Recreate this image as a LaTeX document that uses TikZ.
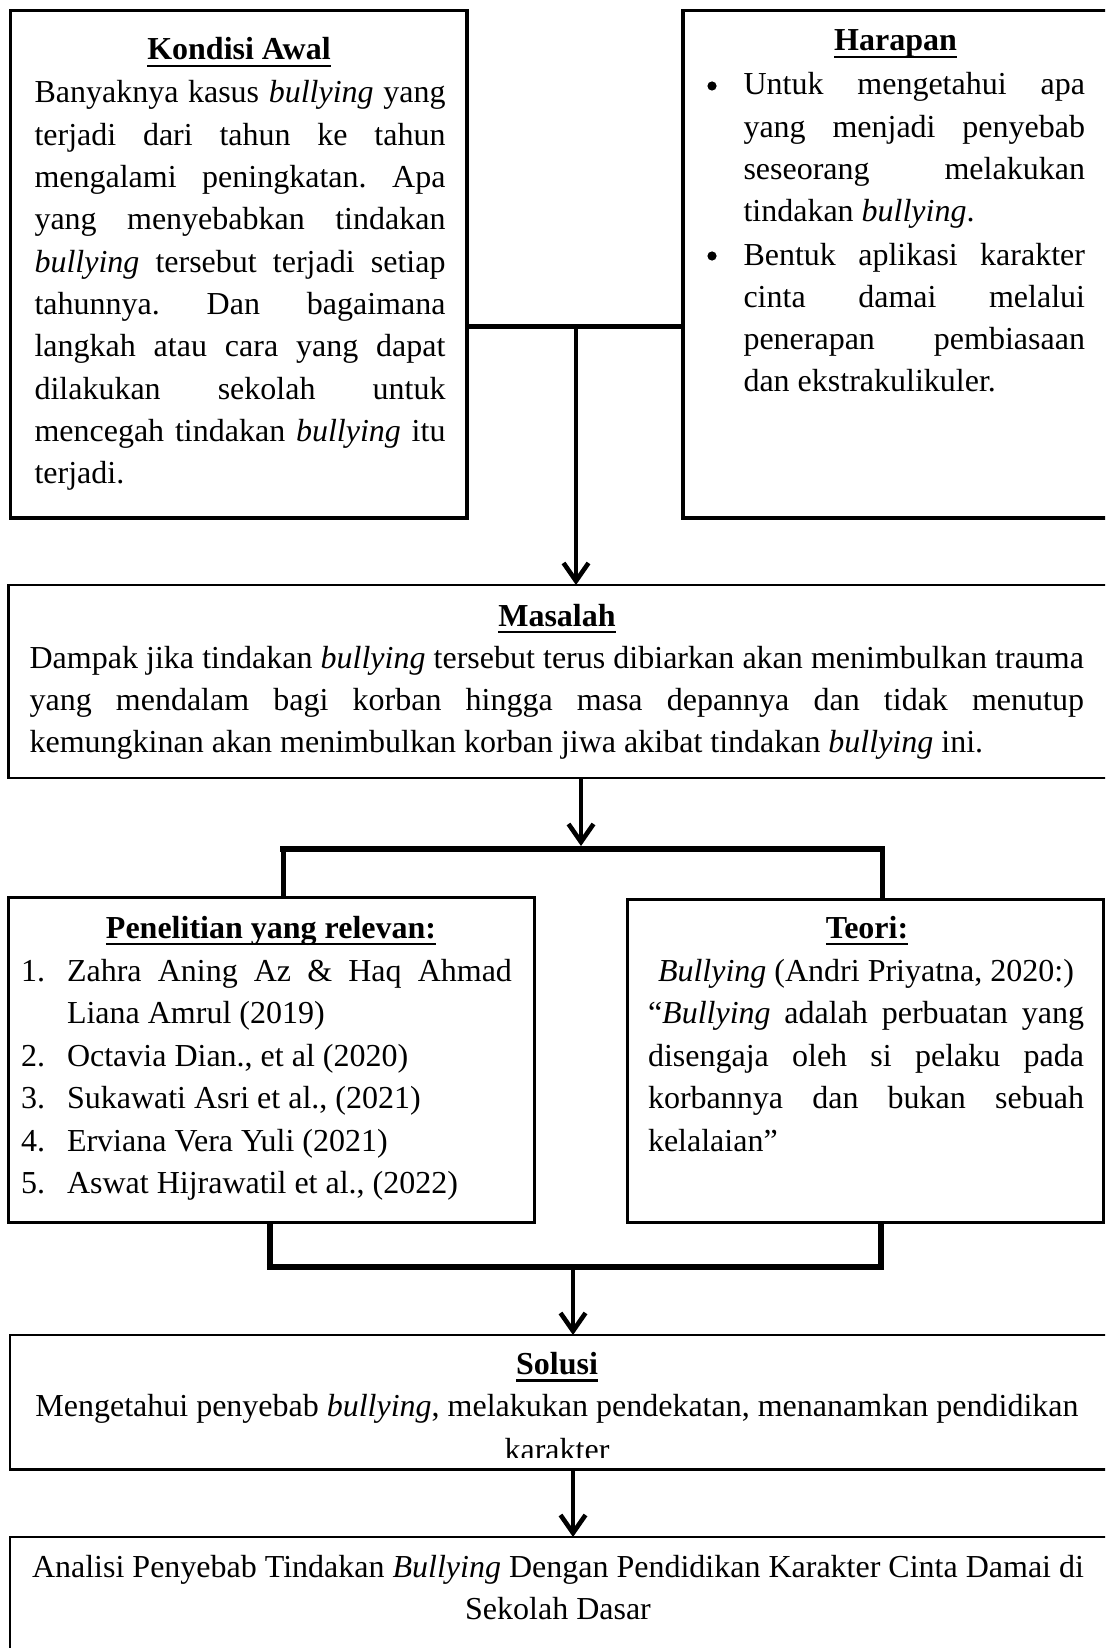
\documentclass[tikz,border=0pt]{standalone}
\usepackage{fontspec}
\setmainfont{Liberation Serif}
\usetikzlibrary{arrows.meta}
\frenchspacing
\newsavebox\ulbox
\newcommand\ULtitle[1]{\sbox\ulbox{\bfseries #1}\rlap{\rule[-3.6pt]{\wd\ulbox}{1.3pt}}\usebox\ulbox}
\newcommand\JLine[2]{\makebox[#1][s]{#2}}
\begin{document}
\begin{tikzpicture}[x=0.5pt,y=-0.5pt,
  txt/.style={inner sep=0pt, outer sep=0pt, font=\fontsize{16pt}{21pt}\selectfont},
  tl/.style={txt, anchor=base west},
  tc/.style={txt, anchor=base},
  bulletdot/.style={circle, fill=black, inner sep=0pt, minimum size=4.6pt},
  boxbase/.style={draw, anchor=north west, inner sep=0pt, outer sep=0pt},
  boxthick/.style={boxbase, line width=1.7pt},
  boxmid/.style={boxbase, line width=1.5pt},
  boxthin/.style={boxbase, line width=1.1pt},
  arr/.style={line width=2pt, -{Straight Barb[length=9pt,width=12.5pt,line width=2.3pt]}},
]
\useasboundingbox (0,0) rectangle (1105,1648);
\clip (0,0) rectangle (1105,1648);

% ---------- boxes ----------
\node[boxthick, minimum width=228.25pt, minimum height=253.75pt] (kondisi) at (10.5,10.5) {};
\node[boxthick, minimum width=216pt, minimum height=253.75pt] (harapan) at (683,10.5) {};
\node[boxthin, minimum width=553.25pt, minimum height=96.5pt] (masalah) at (8.5,585) {};
\node[boxmid, minimum width=262.75pt, minimum height=162.5pt] (pen) at (8.5,897) {};
\node[boxmid, minimum width=238.25pt, minimum height=161.5pt] (teori) at (627,899) {};
\node[boxthin, minimum width=552.5pt, minimum height=67.25pt] (solusi) at (10,1335) {};
\node[boxthin, minimum width=552.5pt, minimum height=61.5pt] (final) at (10,1537) {};

% ---------- Kondisi Awal ----------
\node[tc] (kt) at (239,60) {\ULtitle{Kondisi Awal}};
\node[tl] (k1) at (34.5,103) {\JLine{205.5pt}{Banyaknya kasus \textit{bullying} yang}};
\node[tl] (k2) at (34.5,145.3) {\JLine{205.5pt}{terjadi dari tahun ke tahun}};
\node[tl] (k3) at (34.5,187.6) {\JLine{205.5pt}{mengalami peningkatan. Apa}};
\node[tl] (k4) at (34.5,229.9) {\JLine{205.5pt}{yang menyebabkan tindakan}};
\node[tl] (k5) at (34.5,272.2) {\JLine{205.5pt}{\textit{bullying} tersebut terjadi setiap}};
\node[tl] (k6) at (34.5,314.5) {\JLine{205.5pt}{tahunnya. Dan bagaimana}};
\node[tl] (k7) at (34.5,356.8) {\JLine{205.5pt}{langkah atau cara yang dapat}};
\node[tl] (k8) at (34.5,399.1) {\JLine{205.5pt}{dilakukan sekolah untuk}};
\node[tl] (k9) at (34.5,441.4) {\JLine{205.5pt}{mencegah tindakan \textit{bullying} itu}};
\node[tl] (k10) at (34.5,483.7) {terjadi.};

% ---------- Harapan ----------
\node[tc] (ht) at (895.5,51) {\ULtitle{Harapan}};
\node[bulletdot] (hb1) at (712,86) {};
\node[tl] (h1) at (743.5,95) {\JLine{170.75pt}{Untuk mengetahui apa}};
\node[tl] (h2) at (743.5,137.2) {\JLine{170.75pt}{yang menjadi penyebab}};
\node[tl] (h3) at (743.5,179.4) {\JLine{170.75pt}{seseorang melakukan}};
\node[tl] (h4) at (743.5,221.6) {tindakan \textit{bullying}.};
\node[bulletdot] (hb2) at (712,256) {};
\node[tl] (h5) at (743.5,265) {\JLine{170.75pt}{Bentuk aplikasi karakter}};
\node[tl] (h6) at (743.5,307.2) {\JLine{170.75pt}{cinta damai melalui}};
\node[tl] (h7) at (743.5,349.4) {\JLine{170.75pt}{penerapan pembiasaan}};
\node[tl] (h8) at (743.5,391.6) {dan ekstrakulikuler.};

% ---------- Masalah ----------
\node[tc] (mt) at (557,626) {\ULtitle{Masalah}};
\node[tl] (m1) at (29.6,668) {\JLine{527.2pt}{Dampak jika tindakan \textit{bullying} tersebut terus dibiarkan akan menimbulkan trauma}};
\node[tl] (m2) at (29.6,710) {\JLine{527.2pt}{yang mendalam bagi korban hingga masa depannya dan tidak menutup}};
\node[tl] (m3) at (29.6,752) {kemungkinan akan menimbulkan korban jiwa akibat tindakan \textit{bullying} ini.};

% ---------- Penelitian ----------
\node[tc] (pt) at (271,938) {\ULtitle{Penelitian yang relevan:}};
\node[tl] (pn1) at (21,981) {1.};
\node[tl] (p1) at (67,981) {\JLine{222.5pt}{Zahra Aning Az \& Haq Ahmad}};
\node[tl] (p1b) at (67,1023.5) {Liana Amrul (2019)};
\node[tl] (pn2) at (21,1066) {2.};
\node[tl] (p2) at (67,1066) {Octavia Dian., et al (2020)};
\node[tl] (pn3) at (21,1108.5) {3.};
\node[tl] (p3) at (67,1108.5) {Sukawati Asri et al., (2021)};
\node[tl] (pn4) at (21,1151) {4.};
\node[tl] (p4) at (67,1151) {Erviana Vera Yuli (2021)};
\node[tl] (pn5) at (21,1193.5) {5.};
\node[tl] (p5) at (67,1193.5) {Aswat Hijrawatil et al., (2022)};

% ---------- Teori ----------
\node[tc] (tt) at (867,938) {\ULtitle{Teori:}};
\node[tc] (t1) at (866,981) {\textit{Bullying} (Andri Priyatna, 2020:)};
\node[tl] (t2) at (648,1023.5) {\JLine{218pt}{“\textit{Bullying} adalah perbuatan yang}};
\node[tl] (t3) at (648,1066) {\JLine{218pt}{disengaja oleh si pelaku pada}};
\node[tl] (t4) at (648,1108.5) {\JLine{218pt}{korbannya dan bukan sebuah}};
\node[tl] (t5) at (648,1151) {kelalaian”};

% ---------- Solusi ----------
\node[tc] (st) at (557,1374.5) {\ULtitle{Solusi}};
\node[tc] (s1) at (557,1416.7) {Mengetahui penyebab \textit{bullying}, melakukan pendekatan, menanamkan pendidikan};
\begin{scope}
\clip (0,1300) rectangle (1105,1457);
\node[tc] (s2) at (557,1460) {karakter};
\end{scope}

% ---------- Final ----------
\node[tc] (f1) at (558,1577) {Analisi Penyebab Tindakan \textit{Bullying} Dengan Pendidikan Karakter Cinta Damai di};
\node[tc] (f2) at (558,1619) {Sekolah Dasar};

% ---------- connectors ----------
\coordinate (j1) at (576,326);
\draw[line width=2.5pt] (kondisi.east |- j1) -- (harapan.west |- j1);
\draw[arr] (j1) -- (masalah.north -| j1);

\coordinate (j2) at (581,846);
\draw[arr] (masalah.south -| j2) -- (j2);
\coordinate (b1) at (283,849);
\coordinate (b2) at (882,849);
\draw[line width=3pt] ([xshift=-1.5pt]b1) -- ([xshift=1.5pt]b2);
\draw[line width=2.5pt] (b1) -- (pen.north -| b1);
\draw[line width=2.5pt] (b2) -- (teori.north -| b2);

\coordinate (c1) at (270,1267);
\coordinate (c2) at (881,1267);
\coordinate (j3) at (573,1267);
\draw[line width=2.75pt] (pen.south -| c1) -- (c1);
\draw[line width=2.75pt] (teori.south -| c2) -- (c2);
\draw[line width=3pt] ([xshift=-1.6pt]c1) -- ([xshift=1.6pt]c2);
\draw[arr] (j3) -- (solusi.north -| j3);
\draw[arr] (solusi.south -| j3) -- (final.north -| j3);
\end{tikzpicture}
\end{document}
